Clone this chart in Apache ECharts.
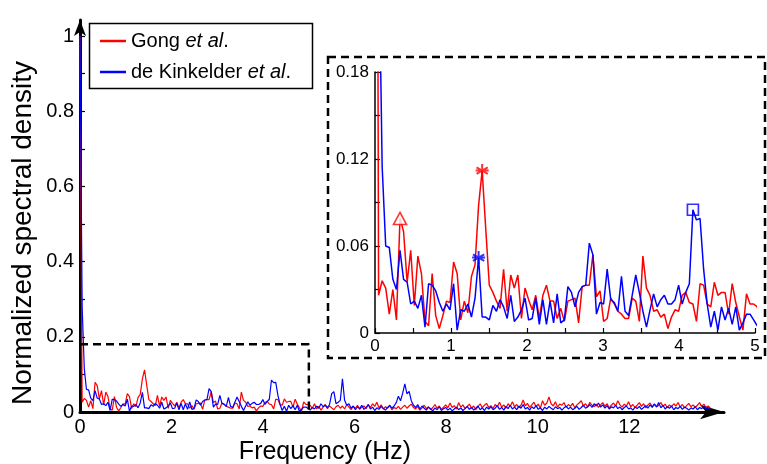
<!DOCTYPE html>
<html><head><meta charset="utf-8">
<script src="https://cdn.jsdelivr.net/npm/echarts@6/dist/echarts.min.js"></script>
<style>html,body{margin:0;padding:0;background:#fff}#c{width:767px;height:464px}</style>
</head><body><div id="c"></div>
<script>
// frequency resolution of the spectra (Hz per sample)
const freqStep = 0.047;

// Gong et al. (red) spectrum, 0-5 Hz
const redLow = [1.0, 0.026, 0.036, 0.031, 0.013, 0.030, 0.009, 0.079, 0.070, 0.035,
  0.057, 0.019, 0.053, 0.041, 0.008, 0.005, 0.041, 0.012, 0.003, 0.012,
  0.022, 0.021, 0.049, 0.041, 0.009, 0.022, 0.014, 0.039, 0.047, 0.088, 0.112,
  0.072, 0.033, 0.028, 0.022, 0.017, 0.044, 0.015, 0.040, 0.031, 0.040,
  0.010, 0.031, 0.023, 0.016, 0.026, 0.010, 0.026, 0.033, 0.022, 0.022,
  0.010, 0.017, 0.008, 0.022, 0.023, 0.024, 0.007, 0.032, 0.033, 0.033,
  0.054, 0.025, 0.029, 0.008, 0.010, 0.024, 0.020, 0.015, 0.013, 0.010,
  0.010, 0.024, 0.022, 0.008, 0.053, 0.031, 0.026, 0.015, 0.016, 0.011,
  0.013, 0.003,
  0.011, 0.016, 0.015, 0.026, 0.028, 0.021, 0.020, 0.008, 0.034, 0.033,
  0.020, 0.018, 0.035, 0.026, 0.028, 0.028, 0.013, 0.034, 0.021, 0.011,
  0.002, 0.027, 0.020, 0.020];
// Gong et al. (red) spectrum, above 5 Hz
const redHigh = [0.018, 0.010, 0.022, 0.008, 0.015, 0.005, 0.013, 0.020, 0.009, 0.016,
  0.011, 0.006, 0.014, 0.018, 0.010, 0.016, 0.008, 0.020, 0.013, 0.006,
  0.015, 0.010, 0.018, 0.007, 0.013, 0.016, 0.009, 0.020, 0.012, 0.022,
  0.015, 0.026, 0.011, 0.019, 0.008, 0.014, 0.010, 0.017, 0.006, 0.012,
  0.009, 0.015, 0.007, 0.013, 0.018, 0.010, 0.016, 0.021, 0.012, 0.008,
  0.015, 0.005, 0.011, 0.018, 0.009, 0.014, 0.006, 0.012, 0.020, 0.010,
  0.016, 0.007, 0.013, 0.019, 0.011, 0.024, 0.012, 0.017, 0.008, 0.025,
  0.013, 0.019, 0.009, 0.015, 0.021, 0.010, 0.016, 0.006, 0.014, 0.022,
  0.011, 0.018, 0.023, 0.012, 0.017, 0.009, 0.020, 0.014, 0.026, 0.013,
  0.019, 0.010, 0.022, 0.015, 0.027, 0.014, 0.020, 0.011, 0.018, 0.032,
  0.016, 0.023, 0.012, 0.019, 0.026, 0.014, 0.021, 0.010, 0.030, 0.018,
  0.024, 0.040, 0.022, 0.016, 0.027, 0.013, 0.021, 0.018, 0.025, 0.012,
  0.020, 0.015, 0.023, 0.011, 0.019, 0.024, 0.030, 0.016, 0.022, 0.013,
  0.026, 0.018, 0.014, 0.021, 0.012, 0.019, 0.025, 0.015, 0.022, 0.011,
  0.018, 0.024, 0.016, 0.030, 0.019, 0.013, 0.021, 0.016, 0.027, 0.014,
  0.020, 0.012, 0.018, 0.025, 0.015, 0.022, 0.011, 0.019, 0.024, 0.014,
  0.020, 0.013, 0.018, 0.025, 0.015, 0.021, 0.012, 0.019, 0.014, 0.022,
  0.016, 0.025, 0.013, 0.020, 0.011, 0.017, 0.023, 0.014, 0.019, 0.012,
  0.018, 0.025, 0.015, 0.021, 0.012, 0.016, 0.010];

// de Kinkelder et al. (blue) spectrum, 0-5 Hz
const blueLow = [1.0, 0.28, 0.115, 0.060, 0.059, 0.037, 0.030, 0.057, 0.037, 0.035,
  0.020, 0.022, 0.017, 0.026, 0.004, 0.034, 0.033, 0.029, 0.021, 0.015,
  0.020, 0.016, 0.034, 0.002, 0.016, 0.015, 0.020, 0.011, 0.024, 0.052,
  0.011, 0.011, 0.009, 0.019, 0.015, 0.023, 0.018, 0.010, 0.026, 0.008,
  0.011, 0.016, 0.024, 0.009, 0.010, 0.024, 0.006, 0.023, 0.006, 0.022,
  0.007, 0.027, 0.007, 0.009, 0.032,
  0.028, 0.018, 0.028, 0.032, 0.033, 0.062, 0.054, 0.013, 0.021, 0.020,
  0.044, 0.023, 0.021, 0.015, 0.039, 0.015, 0.012, 0.026, 0.040, 0.028,
  0.015, 0.004, 0.016, 0.027, 0.018, 0.023,
  0.026, 0.020, 0.020, 0.023, 0.033, 0.020, 0.028, 0.034, 0.085, 0.078,
  0.079, 0.044, 0.020, 0.004, 0.015, 0.002, 0.018, 0.009, 0.017, 0.006,
  0.018, 0.002, 0.007, 0.013, 0.013, 0.009];
// de Kinkelder et al. (blue) spectrum, above 5 Hz
const blueHigh = [0.005, 0.012, 0.008, 0.016, 0.010, 0.022, 0.014, 0.018, 0.012, 0.020,
  0.049, 0.054, 0.022, 0.026, 0.031, 0.088, 0.031, 0.018, 0.022, 0.010,
  0.016, 0.006, 0.014, 0.009, 0.018, 0.007, 0.012, 0.020, 0.008, 0.013,
  0.004, 0.011, 0.007, 0.015, 0.009, 0.005, 0.012, 0.018, 0.010, 0.016,
  0.025, 0.042, 0.030, 0.050, 0.075, 0.048, 0.055, 0.030, 0.018, 0.012,
  0.020, 0.008, 0.016, 0.010, 0.005, 0.013, 0.008, 0.003, 0.011, 0.006,
  0.014, 0.004, 0.009, 0.012, 0.005, 0.010, 0.003, 0.008, 0.013, 0.006,
  0.011, 0.004, 0.009, 0.015, 0.007, 0.012, 0.005, 0.010, 0.016, 0.006,
  0.011, 0.004, 0.013, 0.008, 0.014, 0.006, 0.010, 0.017, 0.007, 0.012,
  0.005, 0.015, 0.009, 0.018, 0.008, 0.013, 0.006, 0.016, 0.010, 0.020,
  0.008, 0.012, 0.005, 0.014, 0.009, 0.017, 0.007, 0.011, 0.004, 0.013,
  0.008, 0.015, 0.010, 0.006, 0.014, 0.009, 0.012, 0.005, 0.011, 0.016,
  0.008, 0.013, 0.006, 0.010, 0.015, 0.007, 0.012, 0.018, 0.010, 0.014,
  0.020, 0.012, 0.022, 0.016, 0.024, 0.013, 0.019, 0.010, 0.017, 0.008,
  0.014, 0.011, 0.018, 0.009, 0.013, 0.006, 0.012, 0.016, 0.008, 0.011,
  0.005, 0.013, 0.009, 0.015, 0.007, 0.012, 0.017, 0.010, 0.019, 0.012,
  0.022, 0.014, 0.025, 0.011, 0.018, 0.008, 0.014, 0.010, 0.016, 0.006,
  0.012, 0.009, 0.015, 0.007, 0.013, 0.010, 0.005, 0.011, 0.008, 0.014,
  0.006, 0.012, 0.009, 0.015, 0.007, 0.010, 0.006];

// axis ticks / labels
const mainXLabels = [0, 2, 4, 6, 8, 10, 12];
const mainYLabels = [0, 0.2, 0.4, 0.6, 0.8, 1];
const mainYTicks = [0, 0.1, 0.2, 0.3, 0.4, 0.5, 0.6, 0.7, 0.8, 0.9, 1];
const insetXLabels = [0, 1, 2, 3, 4, 5];
const insetXTicks = [0, 0.5, 1, 1.5, 2, 2.5, 3, 3.5, 4, 4.5, 5];
const insetYLabels = [0, 0.06, 0.12, 0.18];
const insetYTicks = [0, 0.03, 0.06, 0.09, 0.12, 0.15, 0.18];
const insetRange = { xMax: 5, yMax: 0.18 };
// sample indices of the marked peaks
const redTriangleIdx = 7, redStarIdx = 30, blueStarIdx = 29, blueSquareIdx = 89;
const seriesNames = ['Gong et al.', 'de Kinkelder et al.'];

const red = redLow.concat(redHigh);
const blue = blueLow.concat(blueHigh);
const toPairs = v => v.map((y, i) => [+(i * freqStep).toFixed(4), y]);
const redPts = toPairs(red), bluePts = toPairs(blue);

const FONT = '"Liberation Sans", Arial, sans-serif';
const RED = '#ff0000', BLUE = '#0000ff';
const starPath = 'path://M0,-6L0,6M-5.2,-3L5.2,3M-5.2,3L5.2,-3M-6,0L6,0';

const chart = echarts.init(document.getElementById('c'), null, { renderer: 'canvas' });
chart.setOption({
  animation: false,
  backgroundColor: '#fff',
  grid: [
    { left: 80, right: 43, top: 20, bottom: 52 },
    { left: 375, right: 12, top: 72, bottom: 131 }
  ],
  xAxis: [
    { gridIndex: 0, type: 'value', min: 0, max: 14.07,
      axisLine: { onZero: false, lineStyle: { color: '#000', width: 3 }, symbol: ['none', 'arrow'], symbolSize: [11, 24] },
      axisTick: { show: false },
      splitLine: { show: false },
      axisLabel: { customValues: mainXLabels, color: '#000', fontSize: 20, fontFamily: FONT, margin: 5 } },
    { gridIndex: 1, type: 'value', min: 0, max: insetRange.xMax,
      axisLine: { onZero: false, lineStyle: { color: '#000', width: 1.5 } },
      axisTick: { customValues: insetXTicks, inside: true, length: 5, lineStyle: { color: '#000', width: 1.2 } },
      splitLine: { show: false },
      axisLabel: { customValues: insetXLabels, color: '#000', fontSize: 17, fontFamily: FONT, margin: 5 } }
  ],
  yAxis: [
    { gridIndex: 0, type: 'value', min: 0, max: 1.0426,
      axisLine: { onZero: false, lineStyle: { color: '#000', width: 3 }, symbol: ['none', 'arrow'], symbolSize: [9, 16] },
      axisTick: { customValues: mainYTicks, inside: true, length: 5, lineStyle: { color: '#000', width: 1.2 } },
      splitLine: { show: false },
      axisLabel: { customValues: mainYLabels, color: '#000', fontSize: 20, fontFamily: FONT, margin: 6,
        formatter: v => String(+v.toFixed(2)) } },
    { gridIndex: 1, type: 'value', min: 0, max: insetRange.yMax,
      axisLine: { onZero: false, lineStyle: { color: '#000', width: 1.5 } },
      axisTick: { customValues: insetYTicks, inside: true, length: 5, lineStyle: { color: '#000', width: 1.2 } },
      splitLine: { show: false },
      axisLabel: { customValues: insetYLabels, color: '#000', fontSize: 17, fontFamily: FONT, margin: 6,
        formatter: v => String(+v.toFixed(2)) } }
  ],
  legend: {
    data: seriesNames,
    orient: 'vertical', left: 100, top: 31, padding: 0,
    icon: 'rect', itemWidth: 26, itemHeight: 2.5, itemGap: 11,
    selectedMode: false,
    textStyle: { color: '#000', fontSize: 20, fontFamily: FONT, lineHeight: 20,
      rich: { n: { fontSize: 20, fontFamily: FONT, color: '#000', lineHeight: 20 },
              i: { fontSize: 20, fontFamily: FONT, color: '#000', fontStyle: 'italic', lineHeight: 20 } } },
    formatter: name => {
      const base = name.replace(' et al.', '');
      return '{n|' + base + ' }{i|et al}{n|.}';
    }
  },
  graphic: [
    { type: 'rect', z: 3, shape: { x: 89.5, y: 23.5, width: 223, height: 65 },
      style: { fill: '#fff', stroke: '#000', lineWidth: 1.5 } },
    { type: 'rect', z: 1, shape: { x: 328, y: 57, width: 437, height: 301 },
      style: { fill: null, stroke: '#000', lineWidth: 2.5, lineDash: [8, 5] } },
    { type: 'text', z: 5, x: 325, y: 452,
      style: { text: 'Frequency (Hz)', font: '25px ' + FONT, fill: '#000', align: 'center', verticalAlign: 'middle' } },
    { type: 'text', z: 5, x: 23, y: 233, rotation: Math.PI / 2,
      style: { text: 'Normalized spectral density', font: '28px ' + FONT, fill: '#000', align: 'center', verticalAlign: 'middle' } }
  ],
  series: [
    { name: seriesNames[0], type: 'line', xAxisIndex: 0, yAxisIndex: 0, data: redPts, symbol: 'none',
      lineStyle: { color: RED, width: 1.2 }, itemStyle: { color: RED }, silent: true },
    { name: seriesNames[1], type: 'line', xAxisIndex: 0, yAxisIndex: 0, data: bluePts, symbol: 'none',
      lineStyle: { color: BLUE, width: 1.2 }, itemStyle: { color: BLUE }, silent: true },
    { name: 'zoom', type: 'line', xAxisIndex: 0, yAxisIndex: 0, symbol: 'none', silent: true, z: 3,
      data: [[0, insetRange.yMax], [insetRange.xMax, insetRange.yMax], [insetRange.xMax, 0]],
      lineStyle: { color: '#000', width: 2.5, type: [8, 5] } },
    { name: seriesNames[0], type: 'line', xAxisIndex: 1, yAxisIndex: 1, data: redPts, symbol: 'none', clip: true,
      lineStyle: { color: RED, width: 1.5 }, itemStyle: { color: RED }, silent: true },
    { name: seriesNames[1], type: 'line', xAxisIndex: 1, yAxisIndex: 1, data: bluePts, symbol: 'none', clip: true,
      lineStyle: { color: BLUE, width: 1.5 }, itemStyle: { color: BLUE }, silent: true },
    { name: 'redMarks', type: 'scatter', xAxisIndex: 1, yAxisIndex: 1, silent: true, z: 5,
      data: [
        { value: redPts[redTriangleIdx], symbol: 'triangle', symbolSize: [13, 12], itemStyle: { color: '#fff', borderColor: RED, borderWidth: 1.6 } },
        { value: redPts[redStarIdx], symbol: starPath, symbolSize: 13, itemStyle: { color: RED, borderColor: RED, borderWidth: 2 } }
      ] },
    { name: 'blueMarks', type: 'scatter', xAxisIndex: 1, yAxisIndex: 1, silent: true, z: 5,
      data: [
        { value: bluePts[blueStarIdx], symbol: starPath, symbolSize: 13, itemStyle: { color: BLUE, borderColor: BLUE, borderWidth: 2 } },
        { value: bluePts[blueSquareIdx], symbol: 'rect', symbolSize: 11, itemStyle: { color: 'rgba(255,255,255,0)', borderColor: BLUE, borderWidth: 1.7 } }
      ] }
  ]
});
</script></body></html>
